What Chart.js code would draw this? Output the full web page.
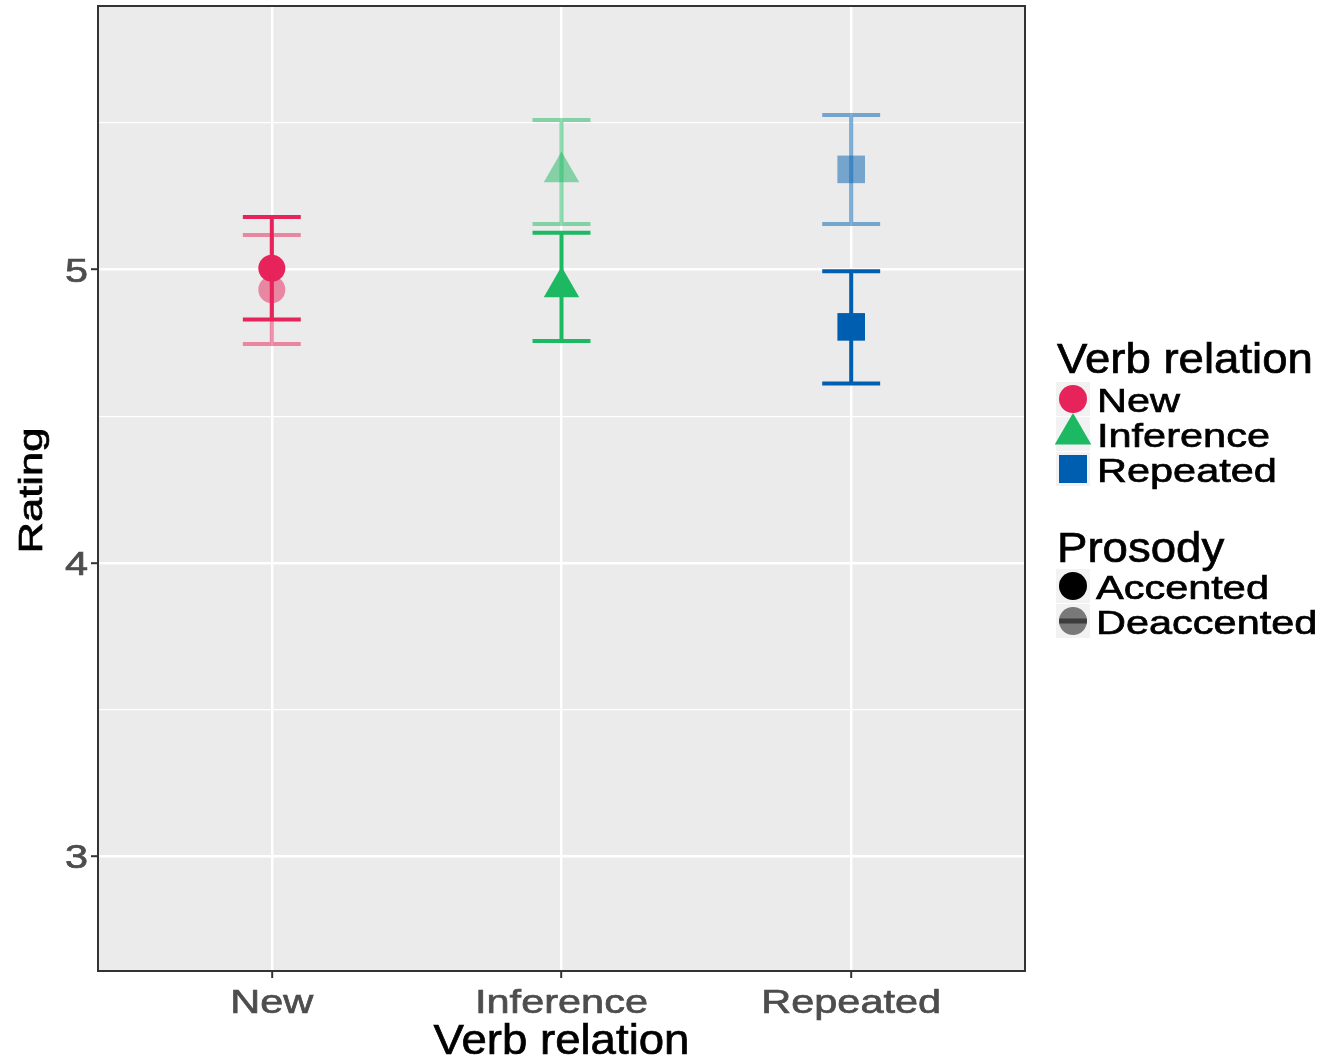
<!DOCTYPE html>
<html>
<head>
<meta charset="utf-8">
<title>Rating by verb relation and prosody</title>
<script src="https://cdn.jsdelivr.net/npm/chart.js@4.4.1/dist/chart.umd.min.js"></script>
<style>
  html, body { margin: 0; padding: 0; background: #ffffff; }
  #wrap { width: 1327px; height: 1062px; }
</style>
</head>
<body>
<div id="wrap"><canvas id="ratingChart" width="1327" height="1062"></canvas></div>
<script>
// categories and values
var categories = ["New", "Inference", "Repeated"]
var prosodyLevels = ["Accented", "Deaccented"]
var yMajorTicks = [3, 4, 5]
var yMinorTicks = [3.5, 4.5, 5.5]

var accentedMean = [5.005, 4.941, 4.805]
var accentedLow = [4.830, 4.757, 4.612]
var accentedHigh = [5.180, 5.126, 4.995]

var deaccentedMean = [4.932, 5.333, 5.342]
var deaccentedLow = [4.747, 5.156, 5.156]
var deaccentedHigh = [5.118, 5.510, 5.527]

var colours = ["#E7235B", "#1DB862", "#005EB0"]
var coloursFaded = ["rgba(231,35,91,0.5)", "rgba(29,184,98,0.5)", "rgba(0,94,176,0.5)"]
var shapes = ["circle", "triangle", "rect"]
var shapeRadius = [13.5, 20.5, 19.5]

var FONT = "'Liberation Sans', Arial, sans-serif"

function toPoints(values) {
  var pts = []
  for (var i = 0; i < values.length; i++) {
    pts.push({ x: i + 1, y: values[i] })
  }
  return pts
}

// text drawn a little wider than the font, like the original
function drawText(ctx, text, x, y, size, colour, stretch, align, rotate) {
  ctx.save()
  ctx.translate(x, y)
  if (rotate) ctx.rotate(rotate)
  ctx.scale(stretch, 1)
  ctx.font = size + "px " + FONT
  ctx.fillStyle = colour
  ctx.strokeStyle = colour
  ctx.lineWidth = 0.7
  ctx.textAlign = align
  ctx.textBaseline = "alphabetic"
  ctx.fillText(text, 0, 0)
  ctx.strokeText(text, 0, 0)
  ctx.restore()
}

var panelPlugin = {
  id: "panel",
  beforeDraw: function (chart) {
    var a = chart.chartArea
    var ctx = chart.ctx
    ctx.save()
    ctx.fillStyle = "#EBEBEB"
    ctx.fillRect(a.left, a.top, a.right - a.left, a.bottom - a.top)
    ctx.restore()
  },
  afterDatasetsDraw: function (chart) {
    var ctx = chart.ctx
    var xs = chart.scales.x
    var ys = chart.scales.y
    var capHalf = 0.1
    var groups = [
      { low: deaccentedLow, high: deaccentedHigh, cols: coloursFaded },
      { low: accentedLow, high: accentedHigh, cols: colours },
    ]
    ctx.save()
    ctx.lineWidth = 4
    ctx.lineCap = "butt"
    groups.forEach(function (g) {
      for (var i = 0; i < categories.length; i++) {
        var x = xs.getPixelForValue(i + 1)
        var x0 = xs.getPixelForValue(i + 1 - capHalf)
        var x1 = xs.getPixelForValue(i + 1 + capHalf)
        var yl = ys.getPixelForValue(g.low[i])
        var yh = ys.getPixelForValue(g.high[i])
        ctx.strokeStyle = g.cols[i]
        ctx.beginPath()
        ctx.moveTo(x0, yh); ctx.lineTo(x1, yh)
        ctx.moveTo(x, yh + 2); ctx.lineTo(x, yl - 2)
        ctx.moveTo(x0, yl); ctx.lineTo(x1, yl)
        ctx.stroke()
      }
    })
    ctx.restore()
  },
  afterDraw: function (chart) {
    var a = chart.chartArea
    var ctx = chart.ctx
    var xs = chart.scales.x
    var ys = chart.scales.y

    // panel border
    ctx.save()
    ctx.strokeStyle = "#333333"
    ctx.lineWidth = 2
    ctx.strokeRect(a.left, a.top, a.right - a.left, a.bottom - a.top)
    ctx.restore()

    // tick labels
    yMajorTicks.forEach(function (v) {
      drawText(ctx, String(v), a.left - 10, ys.getPixelForValue(v) + 12, 34, "#4D4D4D", 1.22, "right")
    })
    categories.forEach(function (c, i) {
      drawText(ctx, c, xs.getPixelForValue(i + 1), a.bottom + 42, 34, "#4D4D4D", 1.22, "center")
    })

    // axis titles
    drawText(ctx, "Verb relation", (a.left + a.right) / 2, 1054, 43, "#000000", 1.06, "center")
    drawText(ctx, "Rating", 42, (a.top + a.bottom) / 2 + 2, 34, "#000000", 1.28, "center", -Math.PI / 2)

    // legend
    var lx = a.right + 32
    var keyX = lx + 16
    drawText(ctx, "Verb relation", lx, 373, 43, "#000000", 1.06, "left")
    var rows = [399, 434, 469]
    categories.forEach(function (c, i) {
      var cy = rows[i]
      ctx.save()
      ctx.fillStyle = "#F2F2F2"
      ctx.fillRect(keyX - 17, cy - 17, 34, 34)
      ctx.fillStyle = colours[i]
      ctx.beginPath()
      if (shapes[i] === "circle") {
        ctx.arc(keyX, cy, 14, 0, Math.PI * 2)
      } else if (shapes[i] === "triangle") {
        ctx.moveTo(keyX, cy - 21)
        ctx.lineTo(keyX + 18.3, cy + 10.5)
        ctx.lineTo(keyX - 18.3, cy + 10.5)
        ctx.closePath()
      } else {
        ctx.rect(keyX - 14, cy - 14, 28, 28)
      }
      ctx.fill()
      ctx.restore()
      drawText(ctx, c, lx + 40, cy + 13, 34, "#000000", 1.22, "left")
    })

    drawText(ctx, "Prosody", lx, 562, 43, "#000000", 1.06, "left")
    var rows2 = [586, 621]
    prosodyLevels.forEach(function (p, i) {
      var cy = rows2[i]
      ctx.save()
      ctx.fillStyle = "#F2F2F2"
      ctx.fillRect(keyX - 17, cy - 17, 34, 34)
      ctx.fillStyle = i === 0 ? "#000000" : "rgba(0,0,0,0.5)"
      ctx.beginPath()
      ctx.arc(keyX, cy, 14, 0, Math.PI * 2)
      ctx.fill()
      if (i === 1) {
        ctx.strokeStyle = "rgba(0,0,0,0.5)"
        ctx.lineWidth = 5
        ctx.beginPath()
        ctx.moveTo(keyX - 14, cy)
        ctx.lineTo(keyX + 14, cy)
        ctx.stroke()
      }
      ctx.restore()
      drawText(ctx, p, lx + 39, cy + 13, 34, "#000000", 1.22, "left")
    })
  },
}

function isMajor(ctx) {
  return ctx.tick && yMajorTicks.indexOf(ctx.tick.value) >= 0
}

var ctx = document.getElementById("ratingChart").getContext("2d")

new Chart(ctx, {
  type: "scatter",
  data: {
    datasets: [
      {
        label: prosodyLevels[0],
        data: toPoints(accentedMean),
        pointStyle: shapes,
        pointRadius: shapeRadius,
        backgroundColor: colours,
        borderWidth: 0,
        order: 0,
      },
      {
        label: prosodyLevels[1],
        data: toPoints(deaccentedMean),
        pointStyle: shapes,
        pointRadius: shapeRadius,
        backgroundColor: coloursFaded,
        borderWidth: 0,
        order: 1,
      },
    ],
  },
  options: {
    responsive: false,
    animation: false,
    devicePixelRatio: 1,
    layout: { autoPadding: false, padding: { left: 0, top: 6, right: 302, bottom: 0 } },
    plugins: {
      legend: { display: false },
      tooltip: { enabled: false },
    },
    scales: {
      x: {
        type: "linear",
        min: 0.4,
        max: 3.6,
        afterBuildTicks: function (scale) {
          scale.ticks = categories.map(function (c, i) { return { value: i + 1 } })
        },
        afterFit: function (scale) { scale.height = 91 },
        ticks: { display: false },
        border: { display: false },
        grid: {
          color: "#FFFFFF",
          lineWidth: 2.4,
          drawTicks: true,
          tickLength: 7,
          tickColor: "#333333",
          tickWidth: 2,
        },
      },
      y: {
        type: "linear",
        min: 2.609,
        max: 5.899,
        afterBuildTicks: function (scale) {
          scale.ticks = yMajorTicks.concat(yMinorTicks)
            .sort(function (p, q) { return p - q })
            .map(function (v) { return { value: v } })
        },
        afterFit: function (scale) { scale.width = 98 },
        ticks: { display: false },
        border: { display: false },
        grid: {
          color: "#FFFFFF",
          lineWidth: function (c) { return isMajor(c) ? 2.4 : 1.2 },
          drawTicks: true,
          tickLength: 7,
          tickColor: function (c) { return isMajor(c) ? "#333333" : "rgba(0,0,0,0)" },
          tickWidth: 2,
        },
      },
    },
  },
  plugins: [panelPlugin],
})
</script>
</body>
</html>
